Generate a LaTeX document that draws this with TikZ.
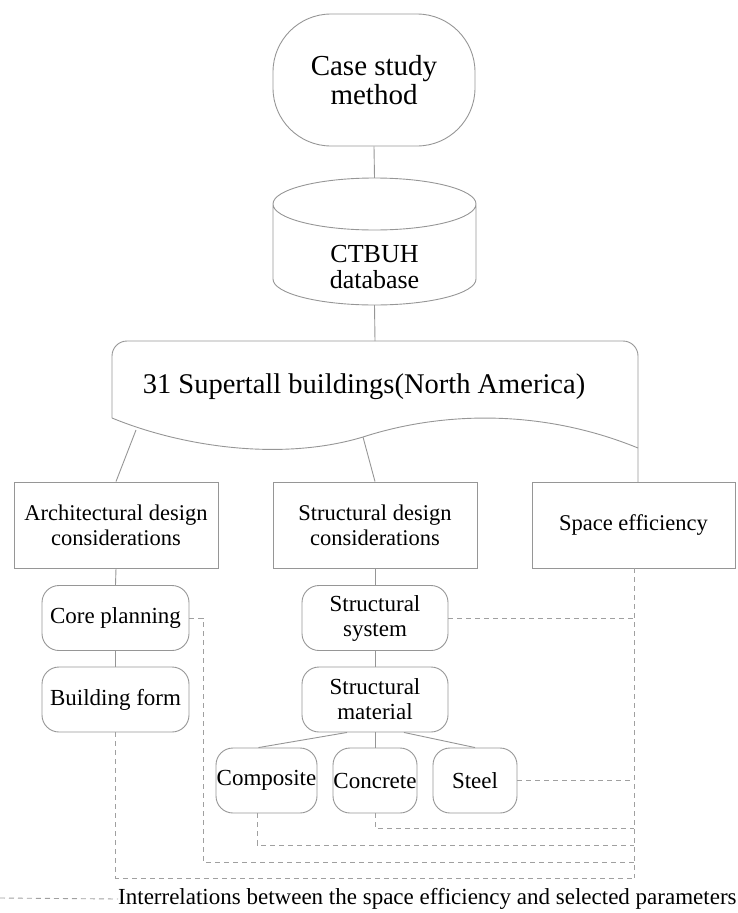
\documentclass[tikz,border=0pt]{standalone}
\usepackage{fontspec}
\setmainfont{Liberation Serif}
\usetikzlibrary{calc}
\definecolor{lineg}{RGB}{150,150,150}
\definecolor{dashg}{RGB}{160,160,160}
\begin{document}
\begin{tikzpicture}[x=1pt,y=-1pt,
  solidln/.style={draw=lineg,line width=0.9pt},
  dashln/.style={draw=dashg,line width=0.9pt,dash pattern=on 5pt off 4pt},
  sqbox/.style={draw=lineg,line width=0.9pt,minimum width=204pt,minimum height=86pt,align=center,inner sep=0pt,font=\fontsize{22.5}{25}\selectfont},
  rbox/.style={draw=lineg,line width=0.9pt,rounded corners=17pt,minimum height=65pt,align=center,inner sep=0pt,font=\fontsize{23}{25}\selectfont},
  bigtxt/.style={align=center,inner sep=0pt,font=\fontsize{29}{29}\selectfont}]
\useasboundingbox (0,0) rectangle (737,913);
% Case study method
\node[draw=lineg,line width=0.9pt,rounded corners=58pt,minimum width=202pt,minimum height=132pt,inner sep=0pt,align=center,font=\fontsize{29}{29}\selectfont] (case) at (374,80) {Case study\\method};
% CTBUH database cylinder
\node[minimum width=203pt,minimum height=127pt,inner sep=0pt] (db) at (374.5,241.5) {};
\draw[solidln] (273,204) arc[start angle=180,end angle=360,x radius=101.5,y radius=26]
  arc[start angle=0,end angle=180,x radius=101.5,y radius=26] -- (273,279)
  arc[start angle=180,end angle=0,x radius=101.5,y radius=26] -- (476,204);
\node[bigtxt,font=\fontsize{26}{26}\selectfont] (dbtxt) at (374.5,267) {CTBUH\\database};
% Document shape
\node[minimum width=526pt,minimum height=80pt,inner sep=0pt] (doc) at (375,381) {};
\draw[solidln] (112,418) -- (112,356) arc[start angle=180,end angle=270,radius=15] -- (623,341)
  arc[start angle=270,end angle=360,radius=15] -- (638,482);
\draw[solidln] (112,418) .. controls (180,446) and (280,462) .. (363,437)
  .. controls (440,412) and (540,408) .. (638,448);
\coordinate (docl) at (136,430);
\coordinate (docm) at (363,437);
\coordinate (docr) at (638,448);
\node[inner sep=0pt,font=\fontsize{28.5}{30}\selectfont] (doctxt) at (364,387) {31 Supertall buildings(North America)};
% boxes
\node[sqbox] (arch) at (116,525) {Architectural design\\considerations};
\node[sqbox] (sdes) at (375,525) {Structural design\\considerations};
\node[sqbox,minimum width=203pt] (space) at (633.5,525) {Space efficiency};
\node[rbox,minimum width=147pt] (core) at (115.5,618) {Core planning};
\node[rbox,minimum width=147pt] (bform) at (115.5,699.5) {Building form};
\node[rbox,minimum width=146pt] (ssys) at (375,618) {Structural\\system};
\node[rbox,minimum width=146pt] (smat) at (375,699.5) {Structural\\material};
\node[rbox,minimum width=101pt] (comp) at (266.5,780.5) {Composite};
\node[rbox,minimum width=84pt] (conc) at (375,780.5) {Concrete};
\node[rbox,minimum width=84pt] (steel) at (475,780.5) {Steel};
% solid connectors
\draw[solidln] (case.south) -- (db.north);
\draw[solidln] (db.south) -- (doc.north |- 0,341);
\draw[solidln] (docl) -- (arch.north);
\draw[solidln] (docm) -- (sdes.north);
\draw[solidln] (arch.south) -- (core.north);
\draw[solidln] (core.south) -- (bform.north);
\draw[solidln] (sdes.south) -- (ssys.north);
\draw[solidln] (ssys.south) -- (smat.north);
\draw[solidln] ($(smat.south)+(-28,0)$) -- ($(comp.north)+(-8,0)$);
\draw[solidln] (smat.south) -- (conc.north);
\draw[solidln] ($(smat.south)+(29,0)$) -- (steel.north);
% dashed interrelations
\coordinate (bus) at (634,878);
\draw[dashln] (space.south -| bus) -- (bus);
\draw[dashln] (ssys.east) -- (ssys.east -| bus);
\draw[dashln] (steel.east) -- (steel.east -| bus);
\draw[dashln] (conc.south) -- (375,828) -- (634,828);
\draw[dashln] ($(comp.south)+(-9.5,0)$) -- (257,845) -- (634,845);
\draw[dashln] (core.east) -- (203,618) -- (203,862) -- (634,862);
\draw[dashln] (bform.south) -- (115.5,878) -- (bus);
% legend
\coordinate (lg0) at (0,898);
\node[anchor=west,inner sep=0pt,font=\fontsize{23}{25}\selectfont] (legend) at (118,899) {Interrelations between the space efficiency and selected parameters};
\draw[dashln] (lg0) -- (legend.west);
\end{tikzpicture}
\end{document}
